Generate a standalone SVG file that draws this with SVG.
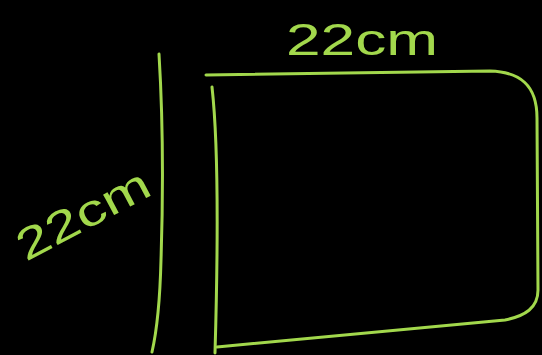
<svg xmlns="http://www.w3.org/2000/svg" width="542" height="355" viewBox="0 0 542 355">
<style>
.ln{fill:none;stroke:#a2d84c;stroke-width:3;stroke-linecap:round;stroke-linejoin:round}
.lbl{fill:#a2d84c;font-family:"Liberation Sans",sans-serif;font-size:44px}
</style>
<rect width="542" height="355" fill="#000"/>
<g id="dimension-left">
<path class="ln" d="M159,54 C163,120 163,200 161,260 C160,300 157,330 152,352"/>
<text class="lbl" transform="translate(26,262) rotate(-28)" textLength="145" lengthAdjust="spacingAndGlyphs">22cm</text>
</g>
<g id="dimension-top">
<text class="lbl" x="286" y="55" textLength="152" lengthAdjust="spacingAndGlyphs">22cm</text>
</g>
<g id="rectangle">
<path class="ln" d="M206,75 L490,71 C520,72 537,85 537,118 L538,290 C538,308 525,316 505,320 L217,347"/>
<path class="ln" d="M212,87 C219,150 218,250 215,353"/>
</g>
</svg>
